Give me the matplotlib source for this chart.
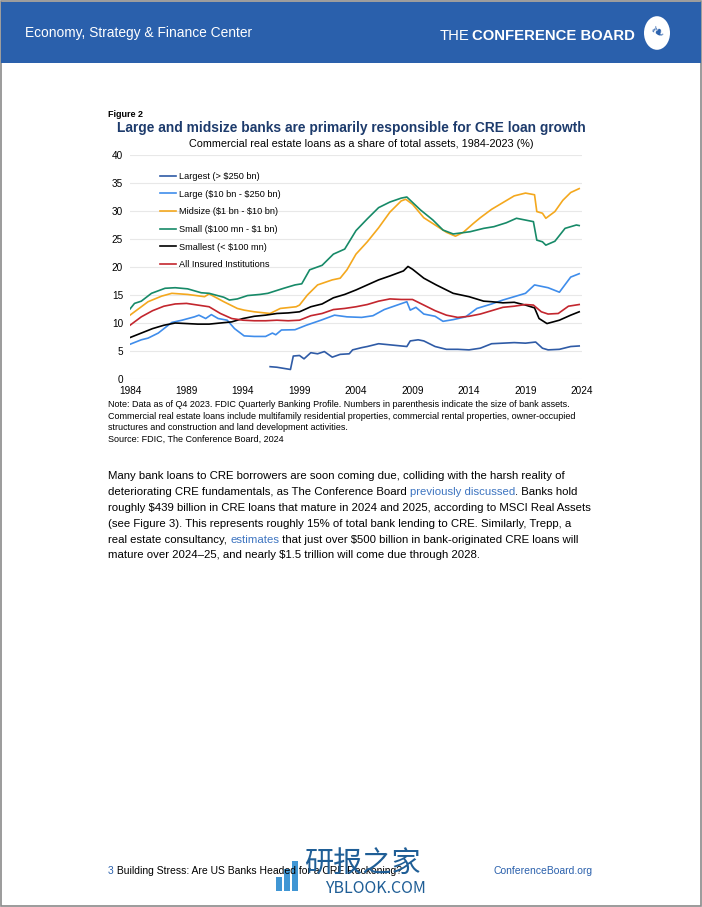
import matplotlib
matplotlib.use('Agg')
import matplotlib.pyplot as plt
from matplotlib.patches import Rectangle, Circle
from matplotlib.font_manager import FontProperties

plt.rcParams['font.family'] = ['Liberation Sans', 'DejaVu Sans']
plt.rcParams['text.parse_math'] = False

W, H = 702, 907

# ---- data (% of total assets) ----
largest_x = [1996.4, 1997.0, 1997.6, 1998.2, 1998.45, 1999.0, 1999.4, 2000.0, 2000.6, 2001.2,
             2001.9, 2002.6, 2003.4, 2003.7, 2004.5, 2005, 2006, 2007, 2008, 2008.5,
             2008.8, 2009.5, 2010, 2011, 2012, 2013, 2014, 2015, 2016, 2017,
             2018, 2019, 2019.9, 2020.5, 2021, 2022, 2023, 2023.75]
largest = [2.2, 2.1, 1.9, 1.7, 4.1, 4.2, 3.6, 4.7, 4.5, 4.9,
           3.9, 4.4, 4.5, 5.2, 5.6, 5.8, 6.3, 6.1, 5.9, 5.8,
           6.8, 7.0, 6.8, 5.8, 5.3, 5.3, 5.2, 5.5, 6.3, 6.4,
           6.5, 6.4, 6.6, 5.5, 5.2, 5.3, 5.8, 5.9]

large_x = [1984, 1985, 1985.6, 1986.5, 1987.7, 1988.6, 1989.7, 1990.1, 1990.7, 1991.2,
           1991.8, 1992.6, 1993.25, 1994.1, 1995, 1996, 1996.6, 1996.9, 1997.4, 1998.6,
           1999.6, 2000.9, 2002.1, 2003.2, 2004.5, 2005.5, 2006.5, 2007.5, 2008.5, 2008.8,
           2009.3, 2010, 2011, 2011.7, 2012.6, 2013.7, 2014.7, 2016, 2017, 2018,
           2019, 2019.8, 2021, 2022, 2023, 2023.75]
large = [6.2, 7.0, 7.3, 8.2, 10.1, 10.5, 11.1, 11.4, 10.8, 11.5,
         10.8, 10.5, 9.0, 7.7, 7.6, 7.6, 8.2, 7.9, 8.75, 8.8,
         9.6, 10.5, 11.4, 11.1, 11.0, 11.3, 12.4, 13.1, 13.8, 12.3,
         12.8, 11.6, 11.2, 10.3, 10.6, 11.1, 12.6, 13.4, 14.1, 14.7,
         15.3, 16.8, 16.3, 15.5, 18.2, 18.8]

midsize_x = [1984, 1985.6, 1986.8, 1987.7, 1989.1, 1990.6, 1991.0, 1992.3, 1993.5, 1994.1,
             1995, 1996.4, 1997.3, 1998.7, 1999.0, 1999.7, 2000.6, 2001.9, 2002.6, 2003.2,
             2004, 2005, 2006, 2007, 2008, 2008.4, 2009, 2010, 2011, 2012,
             2012.8, 2013.5, 2014.4, 2015, 2016, 2017, 2018, 2019, 2019.8, 2020.0,
             2020.5, 2020.8, 2021.6, 2022.3, 2023, 2023.75]
midsize = [11.4, 13.8, 14.8, 15.3, 15.1, 14.7, 15.2, 13.8, 12.6, 12.3,
           12.0, 11.7, 12.6, 12.9, 13.2, 15.0, 16.8, 17.7, 18.0, 19.5,
           22.3, 24.5, 27.0, 29.8, 31.8, 32.1, 31.2, 28.8, 27.5, 26.2,
           25.5, 26.2, 27.8, 28.8, 30.3, 31.5, 32.7, 33.2, 32.9, 29.9,
           29.6, 28.7, 29.9, 31.9, 33.3, 34.0]

small_x = [1984, 1984.4, 1985, 1985.9, 1987.1, 1988, 1989.1, 1990.3, 1991, 1992.3,
           1992.8, 1993.5, 1994.4, 1995.5, 1996.2, 1997.6, 1998.6, 1999.2, 1999.9, 2001,
           2002, 2003, 2004, 2005, 2006, 2007, 2008, 2008.5, 2009.7, 2010.8,
           2011.7, 2012.6, 2014.1, 2015.3, 2016.2, 2017.3, 2018.2, 2019.7, 2020.0, 2020.5,
           2020.8, 2021.6, 2022.5, 2023.5, 2023.75]
small = [12.5, 13.5, 13.9, 15.3, 16.2, 16.3, 16.1, 15.4, 15.3, 14.6,
         14.1, 14.3, 14.9, 15.1, 15.3, 16.2, 16.8, 17.0, 19.5, 20.3,
         22.3, 23.2, 26.5, 28.6, 30.6, 31.6, 32.3, 32.5, 30.2, 28.4,
         26.6, 25.9, 26.3, 26.9, 27.2, 27.9, 28.7, 28.1, 24.8, 24.5,
         23.9, 24.6, 26.9, 27.5, 27.4]

smallest_x = [1984, 1985, 1986, 1987, 1988, 1989, 1990, 1991, 1992, 1993,
              1994, 1995, 1996, 1997, 1998, 1999, 2000, 2001, 2002, 2003,
              2004, 2005, 2006, 2007, 2008.2, 2008.6, 2009, 2010, 2011.1, 2012.6,
              2014, 2015.3, 2016, 2017, 2018, 2019, 2019.8, 2020.2, 2020.9, 2022,
              2023, 2023.75]
smallest = [7.4, 8.2, 9.0, 9.6, 10.0, 9.9, 9.8, 9.8, 10.0, 10.2,
            10.8, 11.2, 11.4, 11.7, 11.8, 12.0, 12.9, 13.4, 14.5, 15.1,
            15.9, 16.8, 17.7, 18.4, 19.3, 20.1, 19.6, 18.0, 16.8, 15.3,
            14.7, 13.9, 13.8, 13.6, 13.7, 13.2, 12.7, 10.8, 9.9, 10.5,
            11.4, 12.0]

insured_x = [1984, 1985, 1986, 1987, 1988, 1989, 1990, 1991, 1992, 1993,
             1994, 1995, 1996, 1997, 1998, 1999, 2000, 2001, 2002, 2003,
             2004, 2005, 2006, 2007, 2008, 2009, 2010, 2011, 2012, 2013,
             2014, 2015, 2016, 2017, 2018, 2019, 2019.7, 2020.4, 2021, 2021.9,
             2022.8, 2023.75]
insured = [9.6, 11.1, 12.2, 13.0, 13.4, 13.5, 13.2, 12.9, 11.7, 10.8,
           10.5, 10.4, 10.4, 10.5, 10.4, 10.5, 11.3, 11.7, 12.4, 12.6,
           12.9, 13.3, 13.9, 14.3, 14.2, 14.2, 13.2, 12.2, 11.4, 11.0,
           11.2, 11.6, 12.2, 12.8, 13.0, 13.3, 13.2, 12.0, 11.6, 11.7,
           13.0, 13.3]

series = [
    ('Largest (> $250 bn)', largest_x, largest, '#2F5BA6'),
    ('Large ($10 bn - $250 bn)', large_x, large, '#3F8DEB'),
    ('Midsize ($1 bn - $10 bn)', midsize_x, midsize, '#F4A81E'),
    ('Small ($100 mn - $1 bn)', small_x, small, '#178A68'),
    ('Smallest (< $100 mn)', smallest_x, smallest, '#000000'),
    ('All Insured Institutions', insured_x, insured, '#C3262E'),
]
xticks = [1984, 1989, 1994, 1999, 2004, 2009, 2014, 2019, 2024]
yticks = [0, 5, 10, 15, 20, 25, 30, 35, 40]

note_lines = [
    'Note: Data as of Q4 2023. FDIC Quarterly Banking Profile. Numbers in parenthesis indicate the size of bank assets.',
    'Commercial real estate loans include multifamily residential properties, commercial rental properties, owner-occupied',
    'structures and construction and land development activities.',
    'Source: FDIC, The Conference Board, 2024',
]
LINK = '#3D74C0'
body_lines = [
    [('Many bank loans to CRE borrowers are soon coming due, colliding with the harsh reality of', 'k')],
    [('deteriorating CRE fundamentals, as The Conference Board ', 'k'), ('previously discussed', LINK),
     ('. Banks hold', 'k')],
    [('roughly $439 billion in CRE loans that mature in 2024 and 2025, according to MSCI Real Assets', 'k')],
    [('(see Figure 3). This represents roughly 15% of total bank lending to CRE. Similarly, Trepp, a', 'k')],
    [('real estate consultancy, ', 'k'), ('estimates', LINK),
     (' that just over $500 billion in bank-originated CRE loans will', 'k')],
    [('mature over 2024\u201325, and nearly $1.5 trillion will come due through 2028.', 'k')],
]

fig = plt.figure(figsize=(W / 100, H / 100), dpi=100)
fig.patch.set_facecolor('white')
renderer = fig.canvas.get_renderer()


def fx(x):
    return x / W


def fy(y):
    return 1 - y / H


def width_of(s, size, weight='normal'):
    fp = FontProperties(family=['Liberation Sans'], size=size, weight=weight)
    w1 = renderer.get_text_width_height_descent(s + '|', fp, ismath=False)[0]
    w2 = renderer.get_text_width_height_descent('|', fp, ismath=False)[0]
    return w1 - w2


def runs(x, y, parts, size, weight='normal'):
    for text, color in parts:
        fig.text(fx(x), fy(y), text, fontsize=size, color=color, fontweight=weight, va='baseline')
        x += width_of(text, size, weight)


# page border and header band
fig.patches.append(Rectangle((0.001, 0.001), 0.998, 0.998, transform=fig.transFigure,
                             fill=False, edgecolor='#8A8A8A', linewidth=1.2))
fig.patches.append(Rectangle((fx(1), fy(63)), fx(700), 61 / H, transform=fig.transFigure,
                             facecolor='#2A60AC', edgecolor='none'))
fig.text(fx(25), fy(37), 'Economy, Strategy & Finance Center', color='white', fontsize=9.95, va='baseline')
hs = 10.75
fig.text(fx(440), fy(40), 'THE', color='white', fontsize=hs, va='baseline')
x_cb = 440 + width_of('THE', hs) + 2
fig.text(fx(x_cb), fy(40), 'CONFERENCE BOARD', color='white', fontsize=hs, fontweight='bold', va='baseline')
fig.patches.append(Circle((fx(657), fy(33)), 13 / W, transform=fig.transFigure,
                          facecolor='white', edgecolor='none'))
fig.text(fx(657), fy(33), '\u2767', color='#2A60AC', fontsize=12, ha='center', va='center',
         family=['DejaVu Sans'], rotation=-30)

# figure heading
fig.text(fx(108), fy(117), 'Figure 2', fontsize=6.5, fontweight='bold', va='baseline')
fig.text(fx(351), fy(132), 'Large and midsize banks are primarily responsible for CRE loan growth',
         fontsize=9.9, fontweight='bold', color='#1D3B6C', ha='center', va='baseline')
fig.text(fx(361), fy(147), 'Commercial real estate loans as a share of total assets, 1984-2023 (%)',
         fontsize=7.8, ha='center', va='baseline')

# chart
ax = fig.add_axes([fx(130), fy(379), (582 - 130) / W, (379 - 155) / H])
for label, xs, ys, color in series:
    ax.plot(xs, ys, color=color, linewidth=1.2, label=label)
ax.set_xlim(1984, 2024)
ax.set_ylim(0, 40)
ax.set_xticks(xticks)
ax.set_yticks(yticks)
ax.grid(axis='y', color='#E8E8E8', linewidth=0.8)
ax.set_axisbelow(True)
for s in ax.spines.values():
    s.set_visible(False)
ax.tick_params(length=0, labelsize=7.2, pad=5)
ax.legend(loc='upper left', bbox_to_anchor=(0.066, 0.925), frameon=False, fontsize=6.6,
          handlelength=1.75, handletextpad=0.3, labelspacing=0.95, borderpad=0, borderaxespad=0)

# notes
for i, line in enumerate(note_lines):
    fig.text(fx(108), fy(407 + i * 11.7), line, fontsize=6.52, va='baseline')

# body text
for i, parts in enumerate(body_lines):
    runs(108, 479 + i * 15.9, parts, 8.2)

# footer
runs(108, 874, [('3', '#2A60AC'), (' Building Stress: Are US Banks Headed for a CRE Reckoning?', 'k')], 7.5)
fig.text(fx(593), fy(874), 'ConferenceBoard.org', color='#2A60AC', fontsize=7.5, ha='right', va='baseline')

# watermark overlay
for bx, bh in [(276, 14), (284, 22), (292, 30)]:
    fig.patches.append(Rectangle((fx(bx), fy(891)), 6 / W, bh / H, transform=fig.transFigure,
                                 facecolor='#2B8BD0', edgecolor='none', alpha=0.9))
fig.text(fx(304), fy(873), '研报之家', fontsize=21, color='#1F5E96',
         family=['Noto Sans CJK SC', 'DejaVu Sans'], va='baseline')
fig.text(fx(325), fy(893), 'YBLOOK.COM', fontsize=11.5, color='#1F5E96',
         family=['Noto Sans CJK SC', 'DejaVu Sans'], va='baseline')

fig.savefig('out.png', dpi=100)
